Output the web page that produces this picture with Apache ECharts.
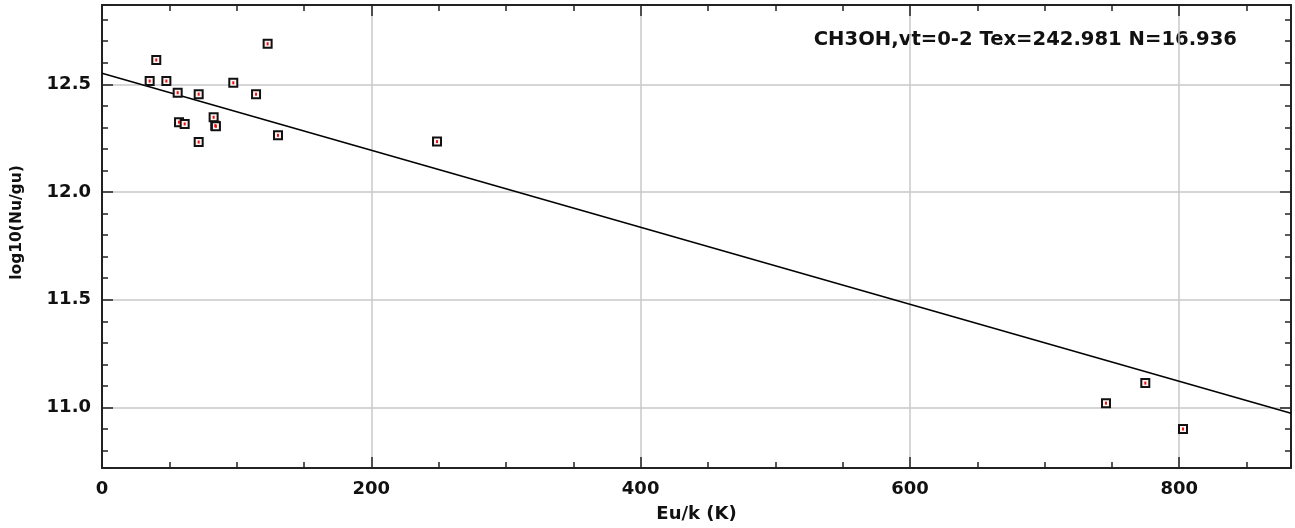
<!DOCTYPE html>
<html>
<head>
<meta charset="utf-8">
<script src="https://cdn.jsdelivr.net/npm/echarts@6/dist/echarts.min.js"></script>
<style>
  html, body { margin: 0; padding: 0; background: #fff; }
  #main { width: 1295px; height: 528px; }
</style>
</head>
<body>
<div id="main"></div>
<script>
// 数据 Eu/k (K), log10(Nu/gu)
var euk = [35.4, 40.3, 47.8, 56.2, 71.8, 57.2, 61.4, 71.8, 82.9, 84.1, 84.6, 97.5, 114.4, 123.0, 130.7, 248.8, 745.6, 774.8, 802.8];
var logNu = [12.515, 12.613, 12.515, 12.461, 12.454, 12.324, 12.316, 12.232, 12.347, 12.308, 12.305, 12.507, 12.454, 12.688, 12.263, 12.234, 11.020, 11.113, 10.900];
// 拟合直线端点
var fitX = [0, 883];
var fitY = [12.551, 10.973];
var xTicks = [0, 200, 400, 600, 800];
var yTicks = [11.0, 11.5, 12.0, 12.5];
var label = 'CH3OH,vt=0-2 Tex=242.981 N=16.936';

var points = euk.map(function (x, i) { return [x, logNu[i]]; });
var fitLine = fitX.map(function (x, i) { return [x, fitY[i]]; });

var FONT = 'DejaVu Sans';
var axisCol = '#222';

function axisBase(extra) {
    var o = {
        type: 'value',
        axisLine: { show: true, onZero: false, lineStyle: { color: axisCol, width: 2 } },
        axisTick: { show: true, inside: true, length: 11, lineStyle: { color: axisCol, width: 1.5 } },
        minorTick: { show: true, length: 6, lineStyle: { color: axisCol, width: 1.5 } },
        splitLine: { show: false }
    };
    for (var k in extra) o[k] = extra[k];
    return o;
}

var myChart = echarts.init(document.getElementById('main'));
myChart.setOption({
    animation: false,
    backgroundColor: '#fff',
    grid: { left: 102, right: 4, top: 5, bottom: 60, containLabel: false, outerBoundsMode: 'none' },
    graphic: [{
        type: 'text',
        right: 58,
        top: 30,
        style: { text: label, font: 'bold 19.6px "DejaVu Sans"', fill: '#111' }
    }],
    xAxis: [
        axisBase({
            min: 0, max: 883, interval: 200,
            name: 'Eu/k (K)', nameLocation: 'middle', nameGap: 37,
            nameTextStyle: { fontFamily: FONT, fontWeight: 'bold', fontSize: 18, color: '#111' },
            minorTick: { show: true, splitNumber: 4, length: 6, lineStyle: { color: axisCol, width: 1.5 } },
            axisLabel: {
                show: true, margin: 12, fontFamily: FONT, fontWeight: 'bold', fontSize: 18, color: '#111',
                showMaxLabel: false,
                formatter: function (v) { return xTicks.indexOf(v) >= 0 ? String(v) : ''; }
            },
            splitLine: { show: true, lineStyle: { color: '#c8c8c8', width: 1.5 } }
        }),
        axisBase({
            min: 0, max: 883, interval: 200, position: 'top',
            minorTick: { show: true, splitNumber: 4, length: 6, lineStyle: { color: axisCol, width: 1.5 } },
            axisLabel: { show: false }
        })
    ],
    yAxis: [
        axisBase({
            min: 10.719, max: 12.868, splitNumber: 5,
            name: 'log10(Nu/gu)', nameLocation: 'middle', nameGap: 77,
            nameTextStyle: { fontFamily: FONT, fontWeight: 'bold', fontSize: 15.5, color: '#111', padding: [0, 0, 0, 28] },
            minorTick: { show: true, splitNumber: 5, length: 6, lineStyle: { color: axisCol, width: 1.5 } },
            axisLabel: {
                show: true, margin: 11, fontFamily: FONT, fontWeight: 'bold', fontSize: 18, color: '#111',
                showMinLabel: false, showMaxLabel: false,
                formatter: function (v) {
                    for (var i = 0; i < yTicks.length; i++) {
                        if (Math.abs(yTicks[i] - v) < 1e-6) return yTicks[i].toFixed(1);
                    }
                    return '';
                }
            },
            splitLine: { show: true, lineStyle: { color: '#c8c8c8', width: 1.5 } }
        }),
        axisBase({
            min: 10.719, max: 12.868, splitNumber: 5, position: 'right',
            minorTick: { show: true, splitNumber: 5, length: 6, lineStyle: { color: axisCol, width: 1.5 } },
            axisLabel: { show: false }
        })
    ],
    series: [
        {
            type: 'line',
            data: fitLine,
            symbol: 'none',
            lineStyle: { color: '#000', width: 1.5 },
            z: 2
        },
        {
            type: 'scatter',
            data: points,
            symbol: 'rect',
            symbolSize: 8,
            itemStyle: { color: '#fff3f3', borderColor: '#111', borderWidth: 2, opacity: 1 },
            z: 3
        },
        {
            type: 'scatter',
            data: points,
            symbol: 'rect',
            symbolSize: [2, 3],
            itemStyle: { color: '#ee1111', opacity: 1 },
            silent: true,
            z: 4
        }
    ]
});
</script>
</body>
</html>
